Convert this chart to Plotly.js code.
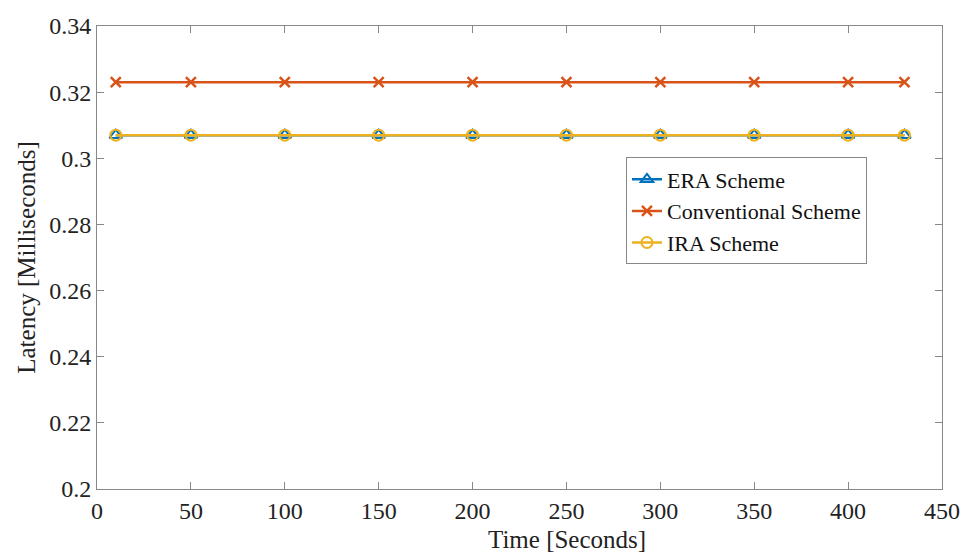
<!DOCTYPE html>
<html><head><meta charset="utf-8">
<script src="https://cdn.plot.ly/plotly-3.0.1.min.js"></script>
<style>html,body{margin:0;padding:0;background:#fff}#c{width:980px;height:554px}</style>
</head><body><div id="c"></div>
<script>
const time = [10, 50, 100, 150, 200, 250, 300, 350, 400, 430];
const eraLatency = [0.307, 0.307, 0.307, 0.307, 0.307, 0.307, 0.307, 0.307, 0.307, 0.307];
const convLatency = [0.323, 0.323, 0.323, 0.323, 0.323, 0.323, 0.323, 0.323, 0.323, 0.323];
const iraLatency = [0.307, 0.307, 0.307, 0.307, 0.307, 0.307, 0.307, 0.307, 0.307, 0.307];
const seriesNames = ['ERA Scheme', 'Conventional Scheme', 'IRA Scheme'];
const xTicks = [0, 50, 100, 150, 200, 250, 300, 350, 400, 450];
const yTicks = [0.2, 0.22, 0.24, 0.26, 0.28, 0.3, 0.32, 0.34];
const yTickText = ['0.2', '0.22', '0.24', '0.26', '0.28', '0.3', '0.32', '0.34'];
const xTitle = 'Time [Seconds]';
const yTitle = 'Latency [Milliseconds]';

const fam = '"Liberation Serif", "Times New Roman", serif';
const tickFont = {family: fam, color: '#222', size: 24};
const titleFont = {family: fam, color: '#222', size: 25};
const traces = [
  {x: time, y: eraLatency, name: seriesNames[0], mode: 'lines+markers',
   line: {color: '#0072BD', width: 2.5},
   marker: {symbol: 'triangle-up-open', size: 11, color: '#0072BD', line: {width: 2}}},
  {x: time, y: convLatency, name: seriesNames[1], mode: 'lines+markers',
   line: {color: '#D95319', width: 2.5},
   marker: {symbol: 'x-thin-open', size: 10, color: '#D95319', line: {width: 2.5}}},
  {x: time, y: iraLatency, name: seriesNames[2], mode: 'lines+markers',
   line: {color: '#EDB120', width: 2.5},
   marker: {symbol: 'circle-open', size: 11, color: '#EDB120', line: {width: 2}}}
];
const axisCommon = {showgrid: false, zeroline: false, showline: true, linecolor: '#888', linewidth: 1,
  mirror: 'ticks', ticks: 'inside', ticklen: 7, tickcolor: '#888', tickfont: tickFont};
const layout = {
  width: 980, height: 554,
  margin: {l: 97, r: 38, t: 26, b: 65},
  paper_bgcolor: '#fff', plot_bgcolor: '#fff',
  font: tickFont,
  showlegend: true,
  legend: {x: 0.626, y: 0.716, xanchor: 'left', yanchor: 'top', bgcolor: '#fff',
    bordercolor: '#888', borderwidth: 1, font: {family: fam, size: 22, color: '#111'},
    itemwidth: 30, tracegroupgap: 0},
  xaxis: Object.assign({}, axisCommon, {range: [0, 450], tickvals: xTicks}),
  yaxis: Object.assign({}, axisCommon, {range: [0.2, 0.34], tickvals: yTicks, ticktext: yTickText,
    title: {text: yTitle, font: titleFont, standoff: 6}}),
  annotations: [{text: xTitle, xref: 'paper', yref: 'paper', x: 0.556, y: -0.109,
    xanchor: 'center', yanchor: 'middle', showarrow: false, font: titleFont}]
};
Plotly.newPlot('c', traces, layout, {displayModeBar: false, staticPlot: true});
</script></body></html>
